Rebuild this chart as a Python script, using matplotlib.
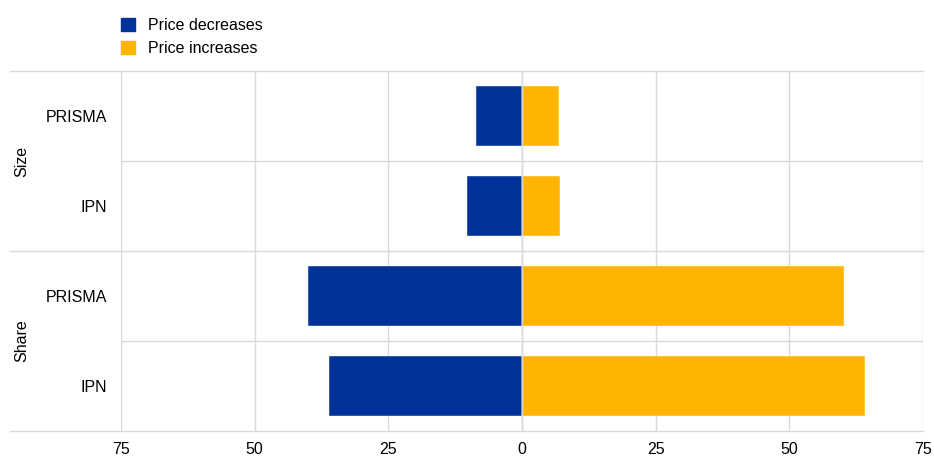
import matplotlib.pyplot as plt
from matplotlib.patches import Patch
from matplotlib.ticker import FuncFormatter

plt.rcParams['font.family'] = ['Liberation Sans', 'DejaVu Sans']

groups = ['Size', 'Share']
categories = ['PRISMA', 'IPN', 'PRISMA', 'IPN']
decreases = [8.6, 10.3, 40.0, 36.1]
increases = [6.9, 7.1, 60.2, 64.1]
series_names = ['Price decreases', 'Price increases']
xticks = [-75, -50, -25, 0, 25, 50, 75]

blue = '#003299'
yellow = '#ffb400'
grid = '#d9d9d9'
fs = 11.5

fig = plt.figure(figsize=(9.34, 4.57), dpi=100)
ax = fig.add_axes([121/934, 1-431/457, 802/934, 360/457])

ypos = list(range(len(categories)))
ax.barh(ypos, [-d for d in decreases], height=0.67, color=blue, edgecolor='white', linewidth=0.3, zorder=2)
ax.barh(ypos, increases, height=0.67, color=yellow, edgecolor='white', linewidth=0.3, zorder=2)
ax.axvline(0, color=grid, lw=1, zorder=3)

ax.set_xlim(-75, 75)
ax.set_ylim(3.5, -0.5)
ax.set_xticks(xticks)
ax.xaxis.set_major_formatter(FuncFormatter(lambda v, p: f'{abs(v):.0f}'))
ax.set_yticks(ypos)
ax.set_yticklabels(categories)
ax.tick_params(axis='both', length=0, labelsize=fs, colors='black')
ax.tick_params(axis='y', pad=10)
ax.tick_params(axis='x', pad=8)
ax.grid(axis='x', color=grid, lw=1, zorder=0)
for s in ax.spines.values():
    s.set_visible(False)

# row separators
for y in [0.5, 2.5]:
    ax.axhline(y, color=grid, lw=1, zorder=1)
x0 = (10 - 121) / 802
for y in [-0.5, 1.5, 3.5]:
    ax.plot([x0, 1], [y, y], transform=ax.get_yaxis_transform(), color=grid, lw=1, clip_on=False, zorder=1)

# group labels
for i, g in enumerate(groups):
    ax.text((22 - 121) / 802, 2*i + 0.5, g, transform=ax.get_yaxis_transform(), rotation=90,
            ha='center', va='center', fontsize=fs)

handles = [Patch(color=blue), Patch(color=yellow)]
fig.legend(handles, series_names, loc='upper left', bbox_to_anchor=(115/934, 1 - 12/457),
           frameon=False, fontsize=fs, handlelength=0.85, handleheight=0.85,
           handletextpad=0.8, labelspacing=0.5, borderaxespad=0)

fig.savefig('out.png', dpi=100)
